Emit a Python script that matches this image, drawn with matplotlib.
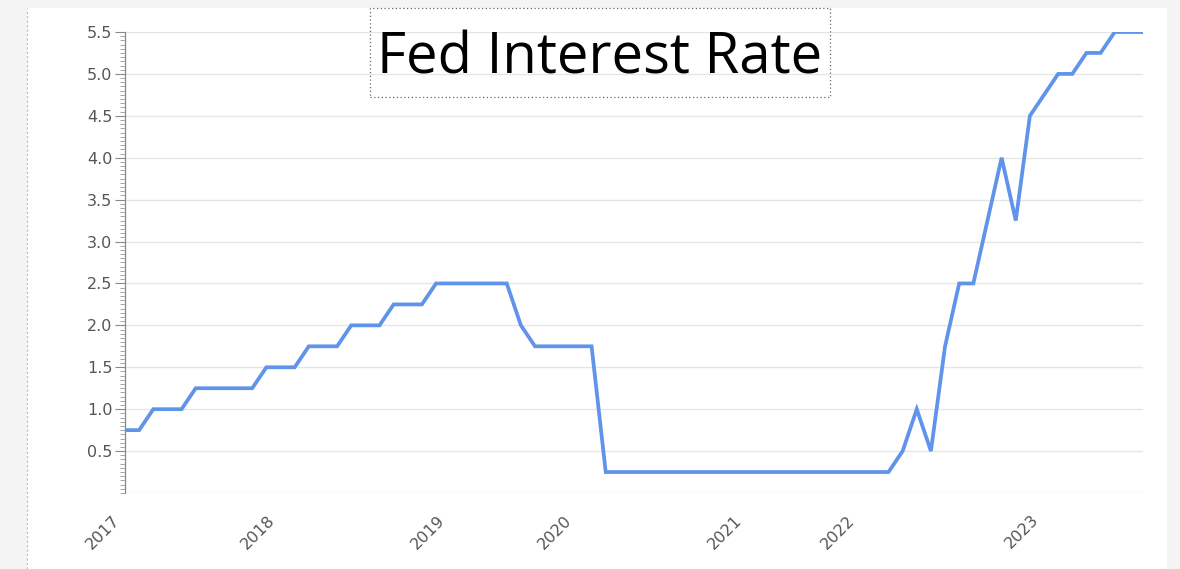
import matplotlib.pyplot as plt
from matplotlib.patches import Rectangle
from matplotlib.ticker import MultipleLocator
from matplotlib.transforms import ScaledTranslation

# rate at each observation (equally spaced points)
rates = [0.75, 0.75, 1.0, 1.0, 1.0,
         1.25, 1.25, 1.25, 1.25, 1.25,
         1.5, 1.5, 1.5, 1.75, 1.75, 1.75,
         2.0, 2.0, 2.0, 2.25, 2.25, 2.25,
         2.5, 2.5, 2.5, 2.5, 2.5, 2.5,
         2.0, 1.75, 1.75, 1.75, 1.75, 1.75] + [0.25] * 21 + \
        [0.5, 1.0, 0.5, 1.75, 2.5, 2.5, 3.25, 4.0, 3.25, 4.5, 4.75,
         5.0, 5.0, 5.25, 5.25, 5.5, 5.5, 5.5]

year_labels = ["2017", "2018", "2019", "2020", "2021", "2022", "2023"]
year_index = [0, 11, 23, 32, 44, 52, 65]
y_ticks = [0.5, 1.0, 1.5, 2.0, 2.5, 3.0, 3.5, 4.0, 4.5, 5.0, 5.5]

W, H = 1180, 569
fig = plt.figure(figsize=(W / 100, H / 100), dpi=100, facecolor="#f4f4f5")

# white card behind the chart
fig.patches.append(Rectangle((27 / W, 0), 1140 / W, 1 - 8 / H, transform=fig.transFigure,
                             fc="white", ec="none", zorder=-10))
fig.add_artist(plt.Line2D([27 / W, 27 / W], [0, 1 - 8 / H], transform=fig.transFigure,
                          color="#bbbbbb", lw=0.8, ls=(0, (2, 2)), zorder=-5))

ax = fig.add_axes([125 / W, 76 / H, 1018 / W, 461 / H])
ax.set_facecolor("none")
ax.set_zorder(1)

x = list(range(len(rates)))
ax.plot(x, rates, color="#6093ea", lw=2.7, solid_joinstyle="miter", zorder=3)

ax.set_xlim(0, len(rates) - 1)
ax.set_ylim(0, 5.5)

ax.set_yticks(y_ticks)
ax.set_yticklabels([f"{v:.1f}" for v in y_ticks])
ax.yaxis.set_minor_locator(MultipleLocator(0.05))
ax.tick_params(axis="y", which="major", length=7, width=0.8, color="#888888",
               labelsize=11.5, labelcolor="#555555", pad=2)
ax.tick_params(axis="y", which="minor", length=3.5, width=0.6, color="#999999")

ax.set_xticks(year_index)
ax.set_xticklabels(year_labels, rotation=45, ha="right", rotation_mode="anchor")
ax.tick_params(axis="x", length=0, labelsize=11.5, labelcolor="#555555", pad=14)
shift = ScaledTranslation(-0.13, 0, fig.dpi_scale_trans)
for lab in ax.get_xticklabels():
    lab.set_transform(lab.get_transform() + shift)

for v in [0] + y_ticks:
    ax.axhline(v, color="#e6e6e6", lw=1.0, zorder=1)

for side in ["top", "right", "bottom"]:
    ax.spines[side].set_visible(False)
ax.spines["left"].set_color("#888888")
ax.spines["left"].set_linewidth(0.9)

# title in a dotted box
fig.patches.append(Rectangle((370 / W, 1 - 97 / H), 460 / W, 89 / H, transform=fig.transFigure,
                             fill=False, ec="#666666", lw=0.9, ls=(0, (1, 2)), zorder=5))
fig.text(600 / W, 1 - 73 / H, "Fed Interest Rate", ha="center", va="baseline",
         fontsize=40.5, family="Open Sans", color="black", zorder=6)

fig.savefig("out.png", dpi=100, facecolor=fig.get_facecolor())
